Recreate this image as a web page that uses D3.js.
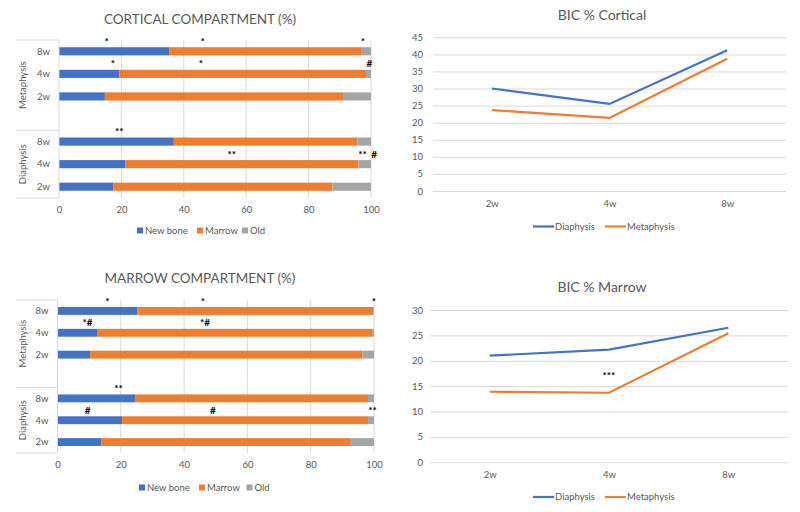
<!DOCTYPE html>
<html>
<head>
<meta charset="utf-8">
<script src="https://cdn.jsdelivr.net/npm/d3@7"></script>
<style>
  body { margin: 0; background: #fff; }
  svg text { font-family: Lato, 'Open Sans', sans-serif; }
</style>
</head>
<body>
<div id="chart"></div>
<script>
// rows: Metaphysis 8w,4w,2w then Diaphysis 8w,4w,2w
const groups = ['Metaphysis', 'Diaphysis'];
const weeks = ['8w', '4w', '2w'];
const seriesNames = ['New bone', 'Marrow', 'Old'];

const corticalNew = [35.3, 19.3, 14.7, 36.8, 21.2, 17.4];
const corticalMarrow = [61.5, 79.1, 76.6, 58.9, 74.8, 70.3];
const corticalOld = [3.2, 1.6, 8.7, 4.3, 4.0, 12.3];

const marrowNew = [25.2, 12.7, 10.3, 24.5, 20.4, 13.8];
const marrowMarrow = [74.6, 86.9, 86.1, 73.6, 77.7, 78.9];
const marrowOld = [0.2, 0.4, 3.6, 1.9, 1.9, 7.3];

// significance marks: row index, x value, label
const corticalMarks = [
  [0, 15.3, '*'], [0, 46, '*'], [0, 97.4, '*'],
  [1, 17.3, '*'], [1, 45.5, '*'], [1, 99.5, '#'],
  [3, 19.3, '**'],
  [4, 55.4, '**'], [4, 97.3, '**'], [4, 101, '#']
];
const marrowMarks = [
  [0, 15.8, '*'], [0, 45.9, '*'], [0, 100, '*'],
  [1, 9.5, '*#'], [1, 46.6, '*#'],
  [3, 19.3, '**'],
  [4, 9.5, '#'], [4, 49.1, '#'], [4, 99.5, '**']
];

const bicWeeks = ['2w', '4w', '8w'];
const lineNames = ['Diaphysis', 'Metaphysis'];
const corticalDiaphysis = [30.0, 25.5, 41.2];
const corticalMetaphysis = [23.7, 21.4, 38.7];
const marrowDiaphysis = [21.0, 22.2, 26.5];
const marrowMetaphysis = [13.9, 13.7, 25.4];

const xTicks = [0, 20, 40, 60, 80, 100];
const corticalYTicks = [0, 5, 10, 15, 20, 25, 30, 35, 40, 45];
const marrowYTicks = [0, 5, 10, 15, 20, 25, 30];

const colors = ['#4472C4', '#ED7D31', '#A5A5A5'];
const textGrey = '#595959';
const gridGrey = '#D9D9D9';

const svg = d3.select('#chart').append('svg')
  .attr('width', 800)
  .attr('height', 512);

const drawStacked = (opt) => {
  const g = svg.append('g');
  const { x0, x1, y0, y1 } = opt;

  const x = d3.scaleLinear().domain([0, 100]).range([x0, x1]);
  // 7 slots: 3 metaphysis rows, one empty row, 3 diaphysis rows
  const slots = ['m8', 'm4', 'm2', 'gap', 'd8', 'd4', 'd2'];
  const y = d3.scaleBand().domain(slots).range([y0, y1]);
  const rowSlot = ['m8', 'm4', 'm2', 'd8', 'd4', 'd2'];

  // Title
  g.append('text')
    .attr('x', opt.titleX)
    .attr('y', opt.titleY)
    .attr('text-anchor', 'middle')
    .attr('font-size', 13.5)
    .attr('fill', textGrey)
    .text(opt.title);

  // Gridlines
  g.selectAll('.grid').data(xTicks.slice(1)).enter()
    .append('line')
    .attr('x1', (d) => x(d)).attr('x2', (d) => x(d))
    .attr('y1', y0).attr('y2', y1)
    .attr('stroke', gridGrey).attr('stroke-width', 1);

  // stacked data
  const rows = opt.newBone.map((v, i) => ({ i, vals: [v, opt.marrow[i], opt.old[i]] }));
  rows.forEach((r) => {
    let acc = 0;
    r.vals.forEach((v, k) => {
      g.append('rect')
        .attr('x', x(acc))
        .attr('y', y(rowSlot[r.i]) + y.bandwidth() * 0.32)
        .attr('width', x(acc + v) - x(acc))
        .attr('height', y.bandwidth() * 0.36)
        .attr('fill', colors[k]);
      acc += v;
    });
  });

  // Category axis box
  const axisCol = '#D9D9D9';
  g.append('line').attr('x1', x0).attr('x2', x0).attr('y1', y0).attr('y2', y1)
    .attr('stroke', axisCol);
  [y0, y(('d8')), y1].forEach((yy) => {
    g.append('line').attr('x1', 16).attr('x2', x0).attr('y1', yy).attr('y2', yy)
      .attr('stroke', axisCol);
  });

  // Week labels
  rowSlot.forEach((s, i) => {
    g.append('text')
      .attr('x', x0 - 9)
      .attr('y', y(s) + y.bandwidth() / 2)
      .attr('dy', '0.35em')
      .attr('text-anchor', 'end')
      .attr('font-size', 9.5)
      .attr('fill', textGrey)
      .text(weeks[i % 3]);
  });

  // Group labels
  const groupCenters = [(y0 + y('d8')) / 2, (y('d8') + y1) / 2];
  groups.forEach((name, i) => {
    g.append('text')
      .attr('transform', `translate(26, ${groupCenters[i]}) rotate(-90)`)
      .attr('text-anchor', 'middle')
      .attr('font-size', 9.5)
      .attr('fill', textGrey)
      .text(name);
  });

  // X axis
  const xAxis = d3.axisBottom(x).tickValues(xTicks).tickSize(0).tickPadding(8);
  const ax = g.append('g').attr('transform', `translate(0, ${y1})`).call(xAxis);
  ax.select('.domain').remove();
  ax.selectAll('text').attr('font-size', 9.5).attr('fill', textGrey)
    .attr('font-family', 'Lato, sans-serif');

  // Marks
  opt.marks.forEach(([r, v, t]) => {
    g.append('text')
      .attr('x', x(v))
      .attr('y', y(rowSlot[r]) + y.bandwidth() * 0.3 - 2)
      .attr('text-anchor', 'middle')
      .attr('font-size', 10)
      .attr('font-weight', 'bold')
      .attr('fill', '#000')
      .text(t);
  });

  // Legend
  const lg = g.append('g');
  opt.legendX.forEach((lx, k) => {
    lg.append('rect')
      .attr('x', lx).attr('y', opt.legendY - 3.5)
      .attr('width', 6).attr('height', 6)
      .attr('fill', colors[k]);
    lg.append('text')
      .attr('x', lx + 8).attr('y', opt.legendY)
      .attr('dy', '0.35em')
      .attr('font-size', 9.5)
      .attr('fill', textGrey)
      .text(seriesNames[k]);
  });
};

const drawLines = (opt) => {
  const g = svg.append('g');
  const { x0, x1, y0, y1 } = opt;

  const x = d3.scalePoint().domain(bicWeeks).range([x0, x1]).padding(0.5);
  const y = d3.scaleLinear().domain([0, d3.max(opt.ticks)]).range([y1, y0]);

  g.append('text')
    .attr('x', opt.titleX)
    .attr('y', opt.titleY)
    .attr('text-anchor', 'middle')
    .attr('font-size', 14)
    .attr('fill', textGrey)
    .text(opt.title);

  const yAxis = d3.axisLeft(y).tickValues(opt.ticks).tickSize(-(x1 - x0)).tickPadding(opt.pad);
  const ay = g.append('g').attr('transform', `translate(${x0}, 0)`).call(yAxis);
  ay.select('.domain').remove();
  ay.selectAll('line').attr('stroke', gridGrey);
  ay.selectAll('text').attr('font-size', 9.5).attr('fill', textGrey)
    .attr('font-family', 'Lato, sans-serif');

  const xAxis = d3.axisBottom(x).tickSize(0).tickPadding(9);
  const ax = g.append('g').attr('transform', `translate(0, ${y1})`).call(xAxis);
  ax.select('.domain').remove();
  ax.selectAll('text').attr('font-size', 9.5).attr('fill', textGrey)
    .attr('font-family', 'Lato, sans-serif');

  const line = d3.line().x((d, i) => x(bicWeeks[i])).y((d) => y(d));
  [opt.dia, opt.meta].forEach((s, k) => {
    g.append('path')
      .datum(s)
      .attr('d', line)
      .attr('fill', 'none')
      .attr('stroke', colors[k])
      .attr('stroke-width', 2.2);
  });

  if (opt.note) {
    g.append('text')
      .attr('x', x(opt.note[0]))
      .attr('y', y(opt.note[1]))
      .attr('text-anchor', 'middle')
      .attr('font-size', 10)
      .attr('font-weight', 'bold')
      .text(opt.note[2]);
  }

  // Legend
  opt.legendX.forEach((lx, k) => {
    g.append('line')
      .attr('x1', lx).attr('x2', lx + 21)
      .attr('y1', opt.legendY).attr('y2', opt.legendY)
      .attr('stroke', colors[k]).attr('stroke-width', 2.2);
    g.append('text')
      .attr('x', lx + 22).attr('y', opt.legendY)
      .attr('dy', '0.35em')
      .attr('font-size', 9.5)
      .attr('fill', textGrey)
      .text(lineNames[k]);
  });
};

drawStacked({
  title: 'CORTICAL COMPARTMENT (%)', titleX: 200, titleY: 24,
  x0: 59, x1: 371, y0: 40, y1: 198,
  newBone: corticalNew, marrow: corticalMarrow, old: corticalOld,
  marks: corticalMarks,
  legendX: [137, 197, 242], legendY: 231
});

drawStacked({
  title: 'MARROW COMPARTMENT (%)', titleX: 200, titleY: 283,
  x0: 57.5, x1: 374, y0: 300, y1: 453,
  newBone: marrowNew, marrow: marrowMarrow, old: marrowOld,
  marks: marrowMarks,
  legendX: [139, 199, 246.5], legendY: 488
});

drawLines({
  title: 'BIC % Cortical', titleX: 602, titleY: 20,
  x0: 433, x1: 786, y0: 37.3, y1: 191, pad: 10,
  ticks: corticalYTicks,
  dia: corticalDiaphysis, meta: corticalMetaphysis,
  legendX: [533, 605], legendY: 226.5
});

drawLines({
  title: 'BIC % Marrow', titleX: 602, titleY: 292,
  x0: 430, x1: 788, y0: 310, y1: 462.3, pad: 7,
  ticks: marrowYTicks,
  dia: marrowDiaphysis, meta: marrowMetaphysis,
  note: ['4w', 16.5, '***'],
  legendX: [533, 605], legendY: 497
});
</script>
</body>
</html>
